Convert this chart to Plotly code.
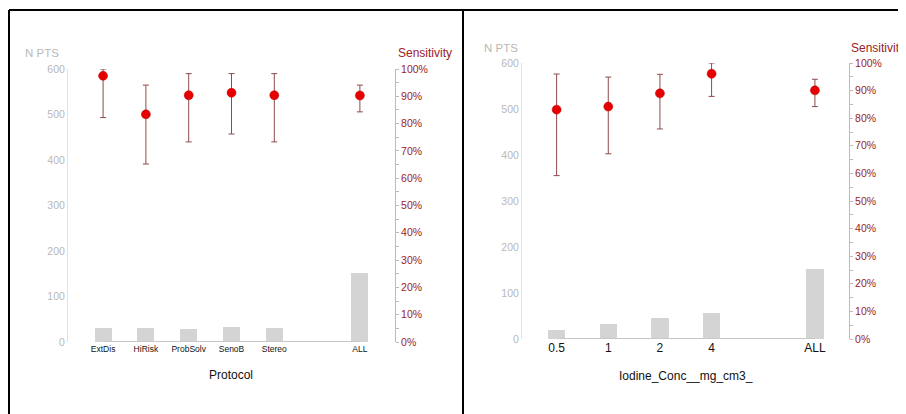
import plotly.graph_objects as go

# ---------------- data ----------------
protocol_cats = ["ExtDis", "HiRisk", "ProbSolv", "SenoB", "Stereo", " ", "ALL"]
protocol_x = ["ExtDis", "HiRisk", "ProbSolv", "SenoB", "Stereo", "ALL"]
protocol_npts = [31, 30, 29, 33, 30, 151]
protocol_sens = [0.975, 0.834, 0.904, 0.913, 0.904, 0.903]
protocol_lo = [0.822, 0.652, 0.733, 0.762, 0.733, 0.843]
protocol_hi = [1.000, 0.941, 0.983, 0.983, 0.983, 0.941]

iodine_cats = ["0.5", "1", "2", "4", " ", "ALL"]
iodine_x = ["0.5", "1", "2", "4", "ALL"]
iodine_npts = [19, 33, 46, 56, 152]
iodine_sens = [0.831, 0.842, 0.890, 0.961, 0.901]
iodine_lo = [0.592, 0.671, 0.761, 0.879, 0.842]
iodine_hi = [0.960, 0.949, 0.959, 1.000, 0.941]

npts_ticks = [0, 100, 200, 300, 400, 500, 600]

# page body adds an 8px offset; size the figure to the visible area
OFF = 8
W, H = 906 - OFF, 414 - OFF
FONT = "Liberation Sans"
GRAY_TXT = "#b8b8b8"
RED_TXT = "#9b2226"
ERR_COL = "#8f4a4a"
BAR_COL = "#d4d4d4"


def px(x):
    return (x - OFF) / W


def py(y):
    return 1 - (y - OFF) / H


fig = go.Figure()


def add_panel(xa, ya, ya2, xs, npts, sens, lo, hi, barw):
    fig.add_trace(go.Bar(x=xs, y=npts, xaxis=xa, yaxis=ya, width=barw,
                         marker=dict(color=BAR_COL, line=dict(width=0)),
                         showlegend=False, hoverinfo="skip"))
    fig.add_trace(go.Scatter(x=[xs[0], xs[-1]], y=[0, 0], xaxis=xa, yaxis=ya,
                             mode="lines", line=dict(color="#c8c8c8", width=2),
                             cliponaxis=False, showlegend=False, hoverinfo="skip"))
    fig.add_trace(go.Scatter(
        x=xs, y=sens, xaxis=xa, yaxis=ya2, mode="markers", cliponaxis=False,
        marker=dict(color="#e60000", size=9, line=dict(color="#c00000", width=0.5)),
        error_y=dict(type="data", symmetric=False,
                     array=[h - s for h, s in zip(hi, sens)],
                     arrayminus=[s - l for s, l in zip(sens, lo)],
                     color=ERR_COL, thickness=1, width=3),
        showlegend=False))


add_panel("x", "y", "y2", protocol_x, protocol_npts, protocol_sens, protocol_lo, protocol_hi, 0.40)
add_panel("x2", "y3", "y4", iodine_x, iodine_npts, iodine_sens, iodine_lo, iodine_hi, 0.335)

left_y = dict(range=[0, 600], tickvals=npts_ticks, showline=True, linecolor="#e2e2e2",
              linewidth=1, ticks="", showgrid=False, zeroline=False, automargin=False,
              tickfont=dict(family=FONT, size=10.5, color=GRAY_TXT))
right_y = dict(range=[0, 1], dtick=0.1, tickformat=".0%", showline=True,
               linecolor="#cdb5b5", linewidth=1, ticks="outside", ticklen=3,
               tickcolor="#cdb5b5", showgrid=False, zeroline=False, automargin=False,
               minor=dict(dtick=0.05, ticks="outside", ticklen=3, tickcolor="#cdb5b5"),
               tickfont=dict(family=FONT, size=10.5, color=RED_TXT))

fig.update_layout(
    width=W, height=H, margin=dict(l=0, r=0, t=0, b=0, autoexpand=False),
    paper_bgcolor="white", plot_bgcolor="white", showlegend=False,
    bargap=0,
    xaxis=dict(domain=[px(68), px(395)], anchor="y", type="category",
               categoryorder="array", categoryarray=protocol_cats, automargin=False,
               range=[-0.82, 6.82], showline=False, showgrid=False, ticks="",
               zeroline=False,
               tickfont=dict(family=FONT, size=8.5, color="#111111")),
    yaxis=dict(domain=[py(342), py(69)], anchor="x", **left_y),
    yaxis2=dict(domain=[py(342), py(69)], anchor="x", overlaying="y", side="right", **right_y),
    xaxis2=dict(domain=[px(522), px(849)], anchor="y3", type="category",
                categoryorder="array", categoryarray=iodine_cats, automargin=False,
                range=[-0.67, 5.66], showline=False, showgrid=False, ticks="",
                zeroline=False,
                tickfont=dict(family=FONT, size=12, color="#111111")),
    yaxis3=dict(domain=[py(339), py(63)], anchor="x2", **left_y),
    yaxis4=dict(domain=[py(339), py(63)], anchor="x2", overlaying="y3", side="right", **right_y),
)

annots = [
    dict(text="N PTS", x=px(42), y=py(53), font=dict(family=FONT, size=11.5, color=GRAY_TXT)),
    dict(text="Sensitivity", x=px(425), y=py(53), font=dict(family=FONT, size=12, color=RED_TXT)),
    dict(text="Protocol", x=px(231), y=py(375), font=dict(family=FONT, size=12, color="#111111")),
    dict(text="N PTS", x=px(501), y=py(48), font=dict(family=FONT, size=11.5, color=GRAY_TXT)),
    dict(text="Sensitivity", x=px(878), y=py(48), font=dict(family=FONT, size=12, color=RED_TXT)),
    dict(text="Iodine_Conc__mg_cm3_", x=px(686), y=py(376), font=dict(family=FONT, size=12, color="#111111")),
]
for a in annots:
    fig.add_annotation(xref="paper", yref="paper", showarrow=False,
                       xanchor="center", yanchor="middle", **a)

border = dict(color="black", width=2)
fig.add_shape(type="line", xref="paper", yref="paper", x0=px(9), x1=1, y0=py(10), y1=py(10), line=border)
fig.add_shape(type="line", xref="paper", yref="paper", x0=px(9), x1=px(9), y0=py(10), y1=0, line=border)
fig.add_shape(type="line", xref="paper", yref="paper", x0=px(463), x1=px(463), y0=py(10), y1=0, line=border)

fig.write_html("out.html")
